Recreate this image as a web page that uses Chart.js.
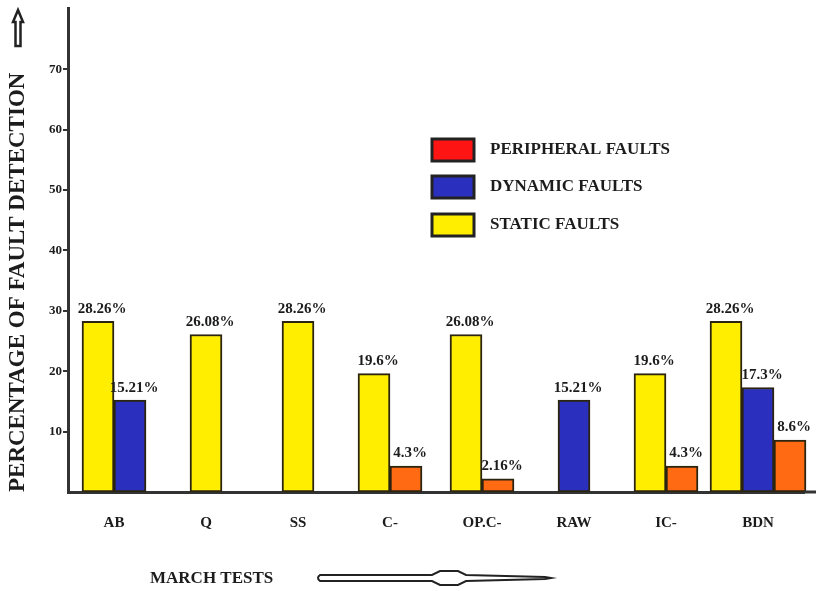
<!DOCTYPE html>
<html>
<head>
<meta charset="utf-8">
<script src="https://cdn.jsdelivr.net/npm/chart.js@4.4.1/dist/chart.umd.min.js"></script>
<style>
  html, body { margin: 0; padding: 0; background: #fff; }
  #wrap { width: 823px; height: 591px; position: relative; }
</style>
</head>
<body>
<div id="wrap"><canvas id="faultChart"></canvas></div>
<script>
// march tests and detection percentages per fault class
const categories = ['AB', 'Q', 'SS', 'C-', 'OP.C-', 'RAW', 'IC-', 'BDN'];
const staticFaults = [28.26, 26.08, 28.26, 19.6, 26.08, null, 19.6, 28.26];
const dynamicFaults = [15.21, null, null, null, null, 15.21, null, 17.3];
const peripheralFaults = [null, null, null, 4.3, 2.16, null, 4.3, 8.6];
const yTicks = [10, 20, 30, 40, 50, 60, 70];

const SERIF = "'Liberation Serif', 'DejaVu Serif', serif";
const INK = '#1c1c1c';
const AXIS = '#333';

// value labels on top of each bar
const valueLabels = {
    id: 'valueLabels',
    afterDatasetsDraw(chart) {
        const ctx = chart.ctx;
        ctx.save();
        ctx.font = 'bold 15px ' + SERIF;
        ctx.fillStyle = INK;
        ctx.textAlign = 'center';
        ctx.textBaseline = 'bottom';
        chart.data.datasets.forEach((ds, i) => {
            chart.getDatasetMeta(i).data.forEach((bar, j) => {
                const v = ds.data[j];
                if (v === null || v === undefined) return;
                ctx.fillText(v + '%', bar.x + 4, bar.y - 5);
            });
        });
        ctx.restore();
    }
};

// legend box, axis arrows and the "march tests" caption
const extras = {
    id: 'extras',
    afterDraw(chart) {
        const ctx = chart.ctx;
        const area = chart.chartArea;
        ctx.save();

        // x axis line runs on past the last group
        ctx.strokeStyle = AXIS;
        ctx.lineWidth = 3;
        ctx.beginPath();
        ctx.moveTo(area.right, area.bottom);
        ctx.lineTo(816, area.bottom);
        ctx.stroke();

        // legend (drawn in reverse dataset order like the original)
        const items = chart.data.datasets.slice().reverse();
        const rows = [139, 176, 214];
        ctx.font = 'bold 17px ' + SERIF;
        ctx.textBaseline = 'middle';
        ctx.textAlign = 'left';
        items.forEach((ds, k) => {
            const y = rows[k];
            ctx.fillStyle = ds.legendColor;
            ctx.fillRect(432, y, 42, 22);
            ctx.lineWidth = 3;
            ctx.strokeStyle = '#222';
            ctx.strokeRect(432, y, 42, 22);
            ctx.fillStyle = INK;
            ctx.fillText(ds.label, 490, y + 11);
        });

        // upward arrow above y title
        ctx.lineWidth = 2.5;
        ctx.strokeStyle = '#222';
        ctx.fillStyle = '#fff';
        ctx.beginPath();
        ctx.moveTo(18, 10);
        ctx.lineTo(23, 22);
        ctx.lineTo(20.5, 22);
        ctx.lineTo(20.5, 46);
        ctx.lineTo(15.5, 46);
        ctx.lineTo(15.5, 22);
        ctx.lineTo(13, 22);
        ctx.closePath();
        ctx.fill();
        ctx.stroke();

        // march tests caption and arrow
        ctx.fillStyle = INK;
        ctx.font = 'bold 17px ' + SERIF;
        ctx.textBaseline = 'middle';
        ctx.fillText('MARCH TESTS', 150, 579);
        ctx.beginPath();
        ctx.moveTo(320, 575);
        ctx.lineTo(432, 575);
        ctx.lineTo(440, 571);
        ctx.lineTo(458, 571);
        ctx.lineTo(466, 575);
        ctx.lineTo(545, 577);
        ctx.lineTo(551, 578);
        ctx.lineTo(545, 579);
        ctx.lineTo(466, 581);
        ctx.lineTo(458, 585);
        ctx.lineTo(440, 585);
        ctx.lineTo(432, 581);
        ctx.lineTo(320, 581);
        ctx.quadraticCurveTo(316, 578, 320, 575);
        ctx.closePath();
        ctx.fillStyle = '#fff';
        ctx.fill();
        ctx.lineWidth = 2;
        ctx.stroke();

        ctx.restore();
    }
};

new Chart(document.getElementById('faultChart'), {
    type: 'bar',
    data: {
        labels: categories,
        datasets: [
            { label: 'STATIC FAULTS', data: staticFaults, backgroundColor: '#ffee00', legendColor: '#ffee00' },
            { label: 'DYNAMIC FAULTS', data: dynamicFaults, backgroundColor: '#2a30bd', legendColor: '#2a30bd' },
            { label: 'PERIPHERAL FAULTS', data: peripheralFaults, backgroundColor: '#ff6a12', legendColor: '#ff1414' }
        ]
    },
    options: {
        responsive: true,
        maintainAspectRatio: false,
        animation: false,
        layout: { padding: { top: 6, right: 19, left: 0, bottom: 0 } },
        datasets: {
            bar: {
                skipNull: true,
                barThickness: 32,
                borderWidth: 2,
                borderColor: '#2b2410',
                borderSkipped: false,
                clip: false
            }
        },
        plugins: {
            legend: { display: false },
            tooltip: { enabled: false }
        },
        scales: {
            x: {
                afterFit(scale) { scale.height = 99; },
                grid: { display: false },
                border: { display: true, color: AXIS, width: 3 },
                ticks: {
                    padding: 14,
                    color: INK,
                    font: { family: SERIF, size: 15, weight: 'bold' }
                }
            },
            y: {
                min: 0,
                max: 80,
                afterFit(scale) { scale.width = 68; },
                grid: { drawOnChartArea: false, color: AXIS, lineWidth: 2, tickLength: 5 },
                border: { display: true, color: AXIS, width: 3 },
                ticks: {
                    stepSize: 10,
                    padding: 1,
                    color: INK,
                    font: { family: SERIF, size: 13, weight: 'bold' },
                    callback: v => yTicks.includes(v) ? v : null
                },
                title: {
                    display: true,
                    text: 'PERCENTAGE OF FAULT DETECTION',
                    align: 'start',
                    color: INK,
                    padding: { top: 4, bottom: 0 },
                    font: { family: SERIF, size: 23, weight: 'bold' }
                }
            }
        }
    },
    plugins: [valueLabels, extras]
});
</script>
</body>
</html>
